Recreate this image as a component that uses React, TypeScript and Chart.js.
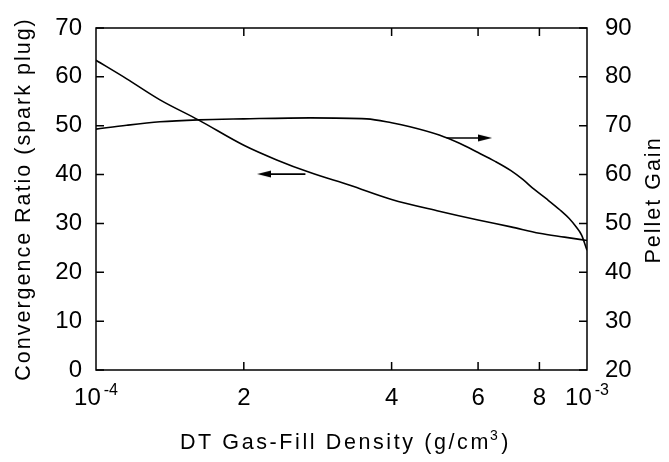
import { useEffect, useRef } from 'react';
import { Chart, registerables } from 'chart.js';

Chart.register(...registerables);

// ---- data (DT gas-fill density in g/cm^3) ----
const densityConv = [1.0e-4, 1.155e-4, 1.35e-4, 1.616e-4, 2.0e-4, 2.334e-4, 2.73e-4, 3.29e-4, 4.0e-4, 5.0e-4, 6.0e-4, 7.0e-4, 8.0e-4, 9.0e-4, 1.0e-3];
const convergenceRatio = [63.4, 59.6, 55.3, 51.2, 46.0, 43.0, 40.4, 37.8, 34.9, 32.5, 30.7, 29.3, 28.0, 27.2, 26.5];

const densityGain = [1.0e-4, 1.155e-4, 1.35e-4, 1.616e-4, 2.0e-4, 2.73e-4, 3.56e-4, 4.0e-4, 4.36e-4, 5.0e-4, 5.5e-4, 6.0e-4, 6.5e-4, 7.0e-4, 7.4e-4, 7.8e-4, 8.3e-4, 8.8e-4, 9.2e-4, 9.5e-4, 9.75e-4, 1.0e-3];
const pelletGain = [69.3, 70.1, 70.8, 71.2, 71.4, 71.6, 71.4, 70.6, 69.8, 68.1, 66.4, 64.5, 62.7, 60.8, 59.0, 57.0, 54.9, 52.8, 51.0, 49.3, 47.6, 44.5];

// arrows: [tail, head]
const leftArrowX = [2.67e-4, 2.2e-4];
const leftArrowY = [40.1, 40.1];
const rightArrowX = [5.18e-4, 6.2e-4];
const rightArrowY = [67.5, 67.5];

// ---- ticks ----
const xTickValues = [1e-4, 2e-4, 4e-4, 6e-4, 8e-4, 1e-3];
const xTickMain = ['10', '2', '4', '6', '8', '10'];
const xTickSup = ['-4', '', '', '', '', '-3'];
const leftTickValues = [0, 10, 20, 30, 40, 50, 60, 70];
const rightTickValues = [20, 30, 40, 50, 60, 70, 80, 90];

const xTitleMain = 'DT Gas-Fill Density (g/cm';
const xTitleSup = '3';
const xTitleEnd = ')';
const leftTitle = 'Convergence Ratio (spark plug)';
const rightTitle = 'Pellet Gain';

const FONT = '"Liberation Sans", Arial, Helvetica, sans-serif';
const TICK = 8;

function makeArrowHead(): HTMLCanvasElement {
  const c = document.createElement('canvas');
  c.width = 14;
  c.height = 8;
  const g = c.getContext('2d')!;
  g.fillStyle = '#000';
  g.beginPath();
  g.moveTo(14, 4);
  g.lineTo(0, 0.5);
  g.lineTo(0, 7.5);
  g.closePath();
  g.fill();
  return c;
}

const decorPlugin = {
  id: 'decor',
  afterDraw(chart: any) {
    const ctx: CanvasRenderingContext2D = chart.ctx;
    const { left, right, top, bottom } = chart.chartArea;
    const xs = chart.scales.x;
    const yl = chart.scales.y;
    const yr = chart.scales.y2;
    ctx.save();
    ctx.strokeStyle = '#000';
    ctx.lineWidth = 1.5;
    ctx.beginPath();
    ctx.moveTo(left, top);
    ctx.lineTo(right, top);
    ctx.lineTo(right, bottom);
    ctx.lineTo(left, bottom);
    ctx.closePath();
    ctx.stroke();

    ctx.beginPath();
    xTickValues.slice(1, -1).forEach((v) => {
      const px = xs.getPixelForValue(v);
      ctx.moveTo(px, bottom);
      ctx.lineTo(px, bottom - TICK);
      ctx.moveTo(px, top);
      ctx.lineTo(px, top + TICK);
    });
    leftTickValues.forEach((v) => {
      const py = yl.getPixelForValue(v);
      ctx.moveTo(left, py);
      ctx.lineTo(left + TICK, py);
    });
    rightTickValues.forEach((v) => {
      const py = yr.getPixelForValue(v);
      ctx.moveTo(right, py);
      ctx.lineTo(right - TICK, py);
    });
    ctx.stroke();

    // x tick labels with superscripts
    ctx.fillStyle = '#000';
    ctx.textBaseline = 'alphabetic';
    ctx.textAlign = 'left';
    xTickValues.forEach((v, i) => {
      const px = xs.getPixelForValue(v);
      const main = xTickMain[i];
      const sup = xTickSup[i];
      ctx.font = `24px ${FONT}`;
      const mw = ctx.measureText(main).width;
      ctx.font = `16px ${FONT}`;
      const sw = sup ? ctx.measureText(sup).width + 3 : 0;
      const x0 = px - (mw + sw) / 2;
      ctx.font = `24px ${FONT}`;
      ctx.fillText(main, x0, bottom + 35);
      if (sup) {
        ctx.font = `16px ${FONT}`;
        ctx.fillText(sup, x0 + mw + 3, bottom + 25);
      }
    });

    // x title
    (ctx as any).letterSpacing = '2.6px';
    ctx.font = `21.5px ${FONT}`;
    const w1 = ctx.measureText(xTitleMain).width;
    const w3 = ctx.measureText(xTitleEnd).width;
    ctx.font = `14px ${FONT}`;
    const w2 = ctx.measureText(xTitleSup).width;
    const total = w1 + w2 + w3;
    const cx = (left + right) / 2 + 4;
    let tx = cx - total / 2;
    ctx.font = `21.5px ${FONT}`;
    ctx.fillText(xTitleMain, tx, bottom + 79);
    tx += w1;
    ctx.font = `14px ${FONT}`;
    ctx.fillText(xTitleSup, tx - 1, bottom + 70);
    tx += w2;
    ctx.font = `21.5px ${FONT}`;
    ctx.fillText(xTitleEnd, tx, bottom + 79);

    // y titles (both read bottom-to-top)
    (ctx as any).letterSpacing = '2px';
    ctx.font = `21.5px ${FONT}`;
    ctx.textAlign = 'center';
    ctx.save();
    ctx.translate(30, (top + bottom) / 2);
    ctx.rotate(-Math.PI / 2);
    ctx.fillText(leftTitle, 0, 0);
    ctx.restore();

    ctx.save();
    ctx.translate(660, (top + bottom) / 2 + 1);
    ctx.rotate(-Math.PI / 2);
    ctx.fillText(rightTitle, 0, 0);
    ctx.restore();

    (ctx as any).letterSpacing = '0px';
    ctx.restore();
  },
};

export default function App() {
  const ref = useRef<HTMLCanvasElement>(null);
  useEffect(() => {
    document.body.style.margin = '0';
    const head = makeArrowHead();
    const lineBase = {
      borderColor: '#000',
      backgroundColor: '#000',
      borderWidth: 1.6,
      pointRadius: 0,
      fill: false,
    };
    const chart = new Chart(ref.current!, {
      type: 'line',
      data: {
        datasets: [
          {
            ...lineBase,
            label: 'Convergence Ratio',
            data: densityConv.map((x, i) => ({ x, y: convergenceRatio[i] })),
            yAxisID: 'y',
            cubicInterpolationMode: 'monotone',
          },
          {
            ...lineBase,
            label: 'Pellet Gain',
            data: densityGain.map((x, i) => ({ x, y: pelletGain[i] })),
            yAxisID: 'y2',
            cubicInterpolationMode: 'monotone',
          },
          {
            ...lineBase,
            label: 'arrow left',
            data: leftArrowX.map((x, i) => ({ x, y: leftArrowY[i] })),
            yAxisID: 'y',
            pointRadius: [0, 5],
            pointStyle: head,
            pointRotation: 180,
          },
          {
            ...lineBase,
            label: 'arrow right',
            data: rightArrowX.map((x, i) => ({ x, y: rightArrowY[i] })),
            yAxisID: 'y2',
            pointRadius: [0, 5],
            pointStyle: head,
            pointRotation: 0,
          },
        ] as any,
      },
      options: {
        responsive: false,
        animation: false,
        devicePixelRatio: 1,
        events: [],
        layout: { padding: { top: 28, left: 0, right: 0, bottom: 0 } },
        plugins: { legend: { display: false }, tooltip: { enabled: false }, title: { display: false } },
        scales: {
          x: {
            type: 'logarithmic',
            min: 1e-4,
            max: 1e-3,
            grid: { display: false },
            border: { display: false },
            ticks: { display: false },
            afterFit: (s: any) => { s.height = 92; },
          },
          y: {
            position: 'left',
            min: 0,
            max: 70,
            grid: { display: false },
            border: { display: false },
            ticks: { stepSize: 10, color: '#000', padding: 6, font: { family: FONT, size: 24 } },
            afterFit: (s: any) => { s.width = 96; },
          },
          y2: {
            position: 'right',
            min: 20,
            max: 90,
            grid: { display: false },
            border: { display: false },
            ticks: { stepSize: 10, color: '#000', padding: 10, font: { family: FONT, size: 24 } },
            afterFit: (s: any) => { s.width = 82; },
          },
        },
      } as any,
      plugins: [decorPlugin],
    });
    return () => chart.destroy();
  }, []);
  return (
    <div style={{ width: 669, height: 462 }}>
      <canvas ref={ref} width={669} height={462} style={{ display: 'block' }} />
    </div>
  );
}
